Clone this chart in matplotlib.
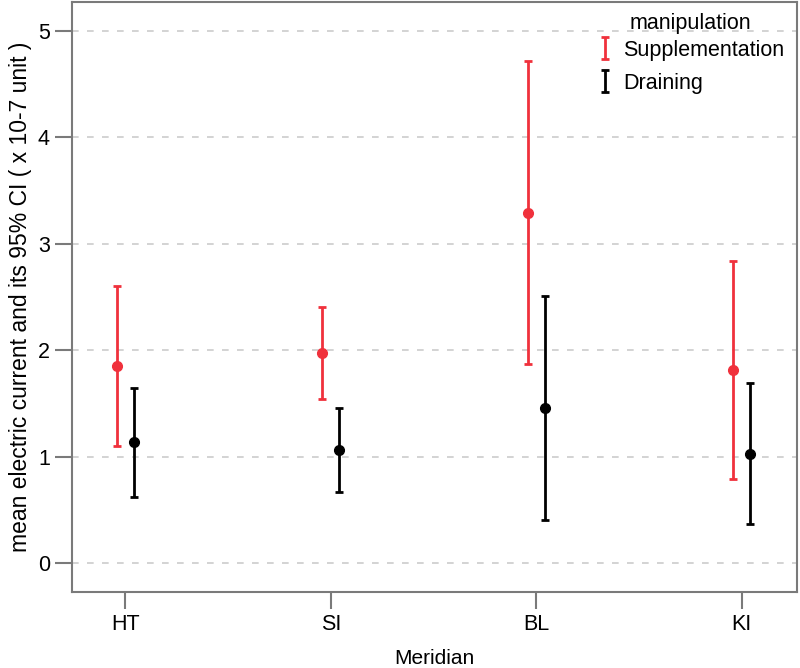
import numpy as np
import matplotlib
matplotlib.use('Agg')
import matplotlib.pyplot as plt

plt.rcParams['font.family'] = ['Liberation Sans', 'DejaVu Sans']

meridians = ['HT', 'SI', 'BL', 'KI']
groups = ['Supplementation', 'Draining']

# means and 95% CI bounds (x 10-7 unit)
supp_mean = [1.85, 1.97, 3.29, 1.81]
supp_low = [1.10, 1.54, 1.87, 0.79]
supp_high = [2.60, 2.41, 4.72, 2.84]
drain_mean = [1.14, 1.06, 1.46, 1.03]
drain_low = [0.62, 0.67, 0.41, 0.37]
drain_high = [1.65, 1.46, 2.51, 1.69]

red = '#F0313C'
grey = '#7a7a7a'

fig = plt.figure(figsize=(8, 6.68), dpi=100)
ax = fig.add_axes([0.09, 0.1138, 0.9063, 0.8832])

x = np.arange(len(meridians))
off = 0.041
series = [(supp_mean, supp_low, supp_high, red, -off, groups[0]),
          (drain_mean, drain_low, drain_high, 'black', off, groups[1])]
for m, lo, hi, c, dx, lab in series:
    m = np.array(m)
    err = [m - np.array(lo), np.array(hi) - m]
    ax.errorbar(x + dx, m, yerr=err, fmt='none', ecolor=c, elinewidth=2,
                capsize=3, capthick=2, label=lab)
    ax.plot(x + dx, m, 'o', color=c, markersize=7, zorder=3)

ax.set_xlim(-0.26, 3.27)
ax.set_ylim(-0.27, 5.27)
ax.set_xticks(x)
ax.set_xticklabels(meridians)
ax.set_yticks([0, 1, 2, 3, 4, 5])
ax.yaxis.grid(True, linestyle=(0, (4, 5)), color='#cccccc', linewidth=1.2)
ax.set_axisbelow(True)

for s in ax.spines.values():
    s.set_color(grey)
    s.set_linewidth(1.5)
ax.tick_params(axis='both', direction='out', length=12, width=1.5, color=grey,
               labelsize=15.5, pad=4)

ax.set_xlabel('Meridian', fontsize=15, labelpad=10)
ax.set_ylabel('mean electric current and its 95% CI ( x 10-7 unit )', fontsize=16.5,
              labelpad=4)

leg = ax.legend(title='manipulation', loc='upper right', bbox_to_anchor=(1.0, 1.003),
                frameon=False, fontsize=15.5, title_fontsize=15.5, handlelength=0.7,
                handletextpad=0.5, labelspacing=0.55, borderaxespad=0.2)
leg._legend_box.sep = 4

fig.savefig('out.png', dpi=100)
